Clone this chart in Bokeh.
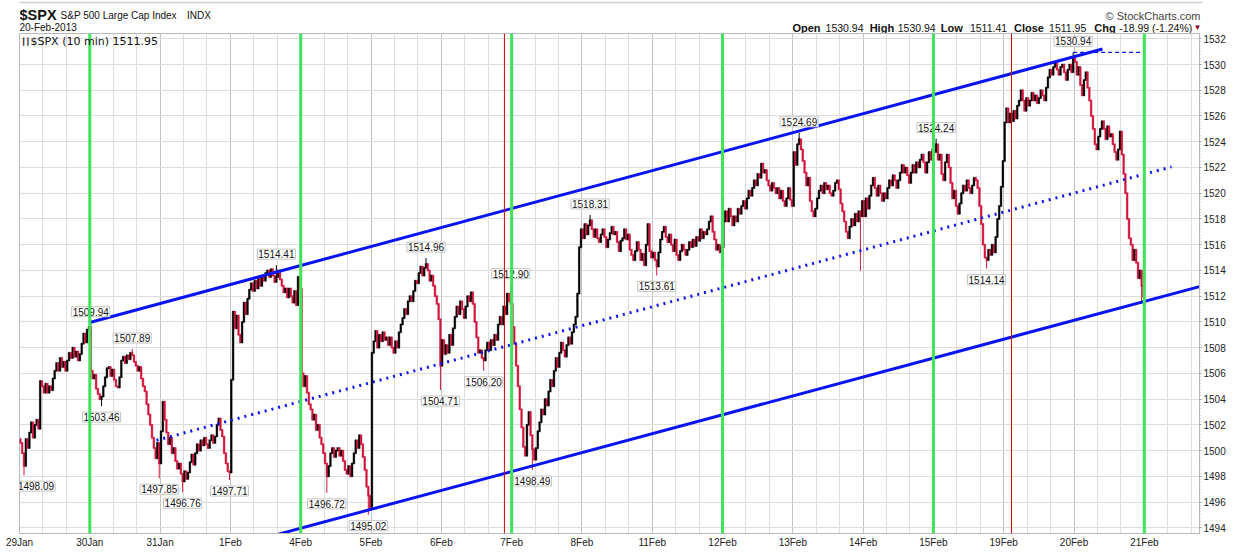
from bokeh.plotting import figure
from bokeh.models import ColumnDataSource, FixedTicker, Label, Span, Range1d
from bokeh.layouts import column
from bokeh.core.properties import value
from bokeh.embed import file_html
from bokeh.resources import INLINE

# ---------------- data ----------------
day_labels = ["29Jan", "30Jan", "31Jan", "1Feb", "4Feb", "5Feb", "6Feb", "7Feb", "8Feb",
              "11Feb", "12Feb", "13Feb", "14Feb", "15Feb", "19Feb", "20Feb", "21Feb"]
bars_per_day = 39
cycle_days = ["30Jan", "4Feb", "7Feb", "12Feb", "15Feb", "21Feb"]
marker_bars = [269.0, 550.3]

first_open = 1500.9
d29jan = [1500.6, 1499.8, 1498.8, 1500.9, 1500.2, 1501.4, 1502.2, 1501.0, 1502.0, 1502.4, 1501.7, 1505.4, 1505.0,
          1504.5, 1505.2, 1504.5, 1505.0, 1504.7, 1505.6, 1506.2, 1506.8, 1506.2, 1507.2, 1506.5, 1506.9, 1506.2,
          1507.0, 1507.6, 1507.2, 1508.0, 1507.3, 1507.7, 1507.0, 1507.5, 1508.3, 1509.1, 1508.4, 1509.4, 1509.6]
d30jan = [1506.2, 1505.6, 1505.9, 1504.8, 1504.4, 1504.0, 1504.2, 1505.0, 1505.7, 1506.4, 1506.5, 1505.8, 1506.3,
          1505.5, 1505.0, 1504.9, 1505.7, 1507.0, 1507.3, 1506.8, 1507.4, 1507.1, 1507.6, 1507.4, 1506.9, 1506.6,
          1506.2, 1506.5, 1505.6, 1505.0, 1504.6, 1503.6, 1502.8, 1502.0, 1501.0, 1500.2, 1499.4, 1500.6, 1499.0]
d31jan = [1501.5, 1503.8, 1502.4, 1501.4, 1500.5, 1501.0, 1499.8, 1500.2, 1499.2, 1498.6, 1499.0, 1498.2, 1497.6,
          1498.4, 1497.8, 1498.3, 1499.1, 1499.7, 1498.9, 1499.8, 1500.5, 1500.0, 1500.8, 1500.4, 1501.0, 1500.5,
          1500.2, 1500.8, 1501.2, 1500.6, 1501.1, 1502.0, 1502.5, 1501.6, 1501.1, 1499.8, 1499.0, 1498.4, 1498.3]
d1feb = [1505.5, 1510.8, 1509.5, 1510.5, 1509.0, 1508.4, 1510.0, 1511.5, 1510.6, 1511.8, 1512.5, 1513.0, 1512.4,
         1513.2, 1512.6, 1513.4, 1512.8, 1513.6, 1513.2, 1513.8, 1514.0, 1513.5, 1514.1, 1513.6, 1513.1, 1513.5,
         1514.0, 1513.3, 1512.8, 1512.3, 1512.6, 1511.9, 1512.6, 1512.0, 1511.5, 1512.4, 1511.3, 1513.5, 1512.6]
d4feb = [1506.0, 1505.0, 1505.8, 1504.5, 1503.6, 1503.2, 1502.4, 1502.8, 1501.6, 1502.0, 1501.0, 1500.5, 1499.8,
         1499.0, 1498.0, 1498.8, 1499.8, 1500.2, 1499.5, 1500.0, 1500.2, 1499.6, 1500.0, 1499.2, 1498.5, 1498.2,
         1498.8, 1498.0, 1499.0, 1499.8, 1500.8, 1500.2, 1501.2, 1500.5, 1499.5, 1498.5, 1497.2, 1496.5, 1495.6]
d5feb = [1507.6, 1508.5, 1509.3, 1508.0, 1509.0, 1508.5, 1509.2, 1508.6, 1508.8, 1508.2, 1508.8, 1508.0, 1507.6,
         1508.5, 1508.0, 1509.2, 1509.8, 1510.3, 1511.0, 1510.6, 1511.6, 1512.0, 1511.6, 1512.4, 1513.2, 1513.0,
         1513.8, 1514.3, 1513.6, 1514.2, 1514.5, 1514.0, 1513.2, 1513.6, 1512.8, 1512.0, 1511.4, 1510.2, 1506.6]
d6feb = [1508.6, 1507.5, 1508.2, 1507.6, 1509.0, 1508.2, 1509.5, 1510.4, 1511.2, 1510.6, 1511.6, 1511.0, 1510.3,
         1511.2, 1512.0, 1511.6, 1512.3, 1511.4, 1510.0, 1508.8, 1507.6, 1507.8, 1507.2, 1507.0, 1507.8, 1508.4,
         1507.8, 1508.6, 1508.2, 1509.0, 1508.6, 1509.8, 1510.4, 1509.8, 1511.2, 1510.6, 1512.2, 1511.6, 1511.4]
d7feb = [1509.6, 1508.3, 1506.6, 1505.0, 1503.2, 1501.8, 1500.3, 1499.6, 1502.0, 1503.0, 1501.2, 1500.1, 1499.3,
         1500.2, 1501.5, 1502.2, 1503.2, 1502.8, 1504.0, 1503.5, 1504.6, 1505.5, 1505.0, 1506.2, 1507.2, 1506.5,
         1507.6, 1508.4, 1507.8, 1507.3, 1508.2, 1508.8, 1508.3, 1509.2, 1509.8, 1510.4, 1512.2, 1515.8, 1517.2]
d8feb = [1516.5, 1517.6, 1516.8, 1517.5, 1517.9, 1517.2, 1516.6, 1517.2, 1516.5, 1516.2, 1516.8, 1517.2, 1516.6,
         1515.8, 1516.4, 1516.9, 1517.4, 1516.8, 1517.0, 1516.2, 1515.5, 1516.3, 1516.5, 1517.2, 1516.4, 1516.8,
         1515.6, 1515.2, 1514.8, 1515.5, 1516.2, 1515.6, 1514.8, 1515.3, 1514.4, 1516.0, 1517.6, 1515.5, 1515.0]
d11feb = [1515.4, 1514.8, 1514.3, 1515.4, 1516.4, 1517.0, 1517.4, 1516.6, 1516.2, 1516.8, 1516.0, 1515.5, 1516.4,
          1515.2, 1514.8, 1515.5, 1516.0, 1515.6, 1515.2, 1515.6, 1516.2, 1515.8, 1516.4, 1515.9, 1516.6, 1516.3,
          1517.2, 1516.5, 1517.0, 1516.8, 1517.2, 1517.8, 1518.2, 1517.0, 1516.4, 1515.6, 1516.0, 1515.4, 1515.8]
d12feb = [1517.8, 1518.6, 1517.8, 1518.8, 1518.2, 1517.5, 1518.2, 1517.8, 1518.8, 1518.4, 1519.0, 1519.4, 1518.8,
          1519.6, 1520.2, 1519.8, 1520.4, 1521.0, 1520.6, 1521.5, 1521.2, 1522.3, 1521.6, 1521.8, 1521.0, 1520.6,
          1520.2, 1520.8, 1520.4, 1520.0, 1520.4, 1519.6, 1520.2, 1519.4, 1519.0, 1519.6, 1520.4, 1519.5, 1519.0]
d13feb = [1523.2, 1522.2, 1523.8, 1524.2, 1523.4, 1522.5, 1521.6, 1520.6, 1521.2, 1519.4, 1518.6, 1518.2, 1518.8,
          1519.6, 1520.2, 1520.6, 1520.0, 1520.8, 1520.3, 1520.6, 1520.0, 1519.8, 1520.2, 1520.8, 1521.0, 1520.3,
          1519.2, 1518.6, 1517.8, 1517.0, 1516.5, 1517.4, 1518.0, 1517.5, 1518.4, 1517.8, 1518.6, 1518.2, 1519.4]
d14feb = [1518.2, 1519.6, 1518.8, 1519.8, 1520.6, 1521.2, 1520.4, 1519.8, 1520.6, 1520.0, 1519.4, 1520.0, 1519.6,
          1520.4, 1521.0, 1520.6, 1521.4, 1521.0, 1520.4, 1521.0, 1521.6, 1522.2, 1521.6, 1522.0, 1521.4, 1520.8,
          1521.6, 1522.2, 1521.6, 1522.4, 1522.0, 1522.6, 1523.0, 1522.4, 1521.6, 1522.4, 1523.2, 1522.6, 1523.4]
d15feb = [1523.2, 1523.8, 1522.6, 1523.0, 1521.5, 1521.0, 1522.4, 1523.0, 1522.0, 1520.8, 1519.6, 1520.2, 1519.0,
          1518.4, 1519.2, 1520.0, 1520.6, 1520.2, 1521.0, 1520.4, 1520.0, 1520.6, 1521.2, 1521.0, 1520.4, 1519.0,
          1517.6, 1516.0, 1515.0, 1514.8, 1515.6, 1515.2, 1516.0, 1515.4, 1516.6, 1518.0, 1519.0, 1520.5, 1522.5]
d19feb = [1525.5, 1526.6, 1525.5, 1526.2, 1525.6, 1526.4, 1525.8, 1526.8, 1527.2, 1528.0, 1527.2, 1526.4, 1527.4,
          1526.8, 1527.2, 1527.8, 1527.2, 1527.6, 1527.0, 1527.4, 1528.0, 1527.6, 1527.2, 1528.2, 1529.0, 1529.6,
          1529.2, 1529.8, 1530.2, 1529.6, 1529.2, 1529.8, 1530.0, 1529.4, 1528.8, 1529.6, 1530.0, 1529.4, 1530.5]
d20feb = [1530.2, 1529.2, 1529.8, 1528.4, 1527.6, 1528.8, 1529.4, 1528.2, 1527.2, 1526.0, 1525.0, 1523.8, 1523.4,
          1524.4, 1525.0, 1525.6, 1525.0, 1524.2, 1525.2, 1524.4, 1524.6, 1523.8, 1523.2, 1522.6, 1523.4, 1524.8,
          1523.0, 1521.5, 1520.0, 1518.0, 1516.5, 1516.0, 1514.8, 1515.6, 1514.6, 1513.4, 1514.0, 1512.8, 1511.95]
day_closes = [d29jan, d30jan, d31jan, d1feb, d4feb, d5feb, d6feb, d7feb, d8feb,
              d11feb, d12feb, d13feb, d14feb, d15feb, d19feb, d20feb]

# annotated extremes: bar index, value, kind
note_bars = [2, 39, 45, 62, 77, 90, 116, 142, 170, 193, 225, 233, 257, 272, 284, 316, 353, 432, 508, 536, 584]
note_vals = [1498.09, 1509.94, 1503.46, 1507.89, 1497.85, 1496.76, 1497.71, 1514.41, 1496.72, 1495.02, 1514.96,
             1504.71, 1506.20, 1512.90, 1498.49, 1518.31, 1513.61, 1524.69, 1524.24, 1514.14, 1530.94]
note_kind = ["low", "high", "low", "high", "low", "low", "low", "high", "low", "low", "high",
             "low", "low", "high", "low", "high", "low", "high", "high", "low", "high"]
extra_low_bars = [466, 622]
extra_low_vals = [1514.0, 1511.41]

# trend channel (bar position, price)
upper_x = [38.5, 600.8]
upper_y = [1509.94, 1531.2]
mid_x = [76.0, 639.1]
mid_y = [1500.8, 1522.05]
lower_x = [114.3, 674.6]
lower_y = [1492.4, 1513.5]
peak_x = [584.5, 622.5]
peak_y = [1530.94, 1530.94]

y_ticks = [1494, 1496, 1498, 1500, 1502, 1504, 1506, 1508, 1510, 1512, 1514,
           1516, 1518, 1520, 1522, 1524, 1526, 1528, 1530, 1532]

hdr_open, hdr_high, hdr_low, hdr_close, hdr_chg = "1530.94", "1530.94", "1511.41", "1511.95", "-18.99 (-1.24%)"
last_value = "1511.95"

# ---------------- build bars ----------------
closes = [c for d in day_closes for c in d]
opens = [first_open] + closes[:-1]
highs = [max(o, c) for o, c in zip(opens, closes)]
lows = [min(o, c) for o, c in zip(opens, closes)]
for b, v, k in zip(note_bars, note_vals, note_kind):
    if k == "high":
        highs[b] = max(highs[b], v)
    else:
        lows[b] = min(lows[b], v)
for b, v in zip(extra_low_bars, extra_low_vals):
    lows[b] = min(lows[b], v)

UP, DOWN = "#000000", "#d2143c"
BLUE = "#0a14f0"
src = ColumnDataSource(dict(
    x=[i + 0.5 for i in range(len(closes))],
    top=[max(o, c) + 0.04 for o, c in zip(opens, closes)],
    bottom=[min(o, c) - 0.04 for o, c in zip(opens, closes)],
    high=highs, low=lows,
    color=[UP if c >= o else DOWN for o, c in zip(opens, closes)],
))

FRAME_W, FRAME_H = 1180, 500
FL, FT = 19, 33          # frame left / top on the page
FB = FT + FRAME_H

p = figure(frame_width=FRAME_W, frame_height=FRAME_H,
           x_range=Range1d(0, 654.6), y_range=Range1d(1493.56, 1532.41),
           y_axis_location="right", toolbar_location=None, output_backend="svg", title=None,
           min_border_left=FL, min_border_top=0, min_border_bottom=2, min_border_right=2,
           background_fill_color="white", border_fill_color="white")
p.outline_line_color = "#b8b8b8"
p.outline_line_width = 1

day_ticks = [i * bars_per_day for i in range(len(day_labels))]
minor_x = [i * 13 for i in range(0, 51)]
p.xaxis.ticker = FixedTicker(ticks=day_ticks, minor_ticks=minor_x)
p.xaxis.major_label_overrides = {t: l for t, l in zip(day_ticks, day_labels)}
p.xaxis.major_tick_out = 0
p.xaxis.major_tick_in = 0
p.xaxis.minor_tick_out = 0
p.xaxis.minor_tick_in = 0
p.xaxis.major_tick_line_color = None
p.xaxis.minor_tick_line_color = None
p.xaxis.axis_line_color = "#b8b8b8"
p.xaxis.major_label_standoff = 3
p.xaxis.major_label_text_font = "Liberation Sans"
p.xaxis.major_label_text_font_size = "10px"
p.xaxis.major_label_text_color = "#222222"

p.yaxis.ticker = FixedTicker(ticks=y_ticks, minor_ticks=[1494 + 0.25 * i for i in range(153)])
p.yaxis.major_tick_out = 2
p.yaxis.major_tick_in = 0
p.yaxis.minor_tick_out = 1
p.yaxis.minor_tick_in = 0
p.yaxis.major_tick_line_color = "#999999"
p.yaxis.minor_tick_line_color = "#aaaaaa"
p.yaxis.axis_line_color = "#b8b8b8"
p.yaxis.major_label_standoff = 2
p.yaxis.major_label_text_font = "Liberation Sans"
p.yaxis.major_label_text_font_size = "10px"
p.yaxis.major_label_text_color = "#222222"

p.xgrid.grid_line_color = "#c2c2c2"
p.xgrid.minor_grid_line_color = "#dddddd"
p.ygrid.grid_line_color = "#dddddd"

# bars
p.segment(x0="x", y0="high", x1="x", y1="low", line_color="color", line_width=1, source=src)
p.vbar(x="x", width=0.9, top="top", bottom="bottom", fill_color="color", line_color="color",
       line_width=0.5, source=src)

# value notes
for b, v, k in zip(note_bars, note_vals, note_kind):
    p.add_layout(Label(x=b + 0.5, y=v, text=f"{v:.2f}", text_align="center",
                       text_baseline="bottom" if k == "high" else "top",
                       y_offset=6 if k == "high" else -6,
                       x_offset=12 if b < 10 else 0,
                       text_font="Liberation Sans", text_font_size="10px", text_color="#111111",
                       background_fill_color="white", border_line_color="#c4c4c4",
                       padding=1))

# cycle / marker lines
for d in cycle_days:
    p.add_layout(Span(location=day_ticks[day_labels.index(d)], dimension="height",
                      line_color="#3fe35a", line_width=3))
for m in marker_bars:
    p.add_layout(Span(location=m, dimension="height", line_color="#d40000", line_width=1))

# channel
p.line(upper_x, upper_y, line_color=BLUE, line_width=3)
p.line(lower_x, lower_y, line_color=BLUE, line_width=3)
p.line(mid_x, mid_y, line_color=BLUE, line_width=3, line_dash="2 5")
p.line(peak_x, peak_y, line_color=BLUE, line_width=1.2, line_dash="4 3")

# legend text inside the frame (screen units from frame bottom-left)
p.add_layout(Label(x=2, y=FRAME_H - 8, x_units="screen", y_units="screen", text="\u2503\u2503",
                   text_font="DejaVu Sans", text_font_size="7px", text_color="#111111",
                   text_baseline="middle"))
p.add_layout(Label(x=11, y=FRAME_H - 8, x_units="screen", y_units="screen",
                   text=f"$SPX (10 min) {last_value}",
                   text_font="DejaVu Sans", text_font_size="11px", text_color="#111111",
                   text_baseline="middle"))

# ---------------- header strip ----------------
# the column aligns this strip's frame with the chart frame (page x 19 .. 1199),
# so the x range is expressed directly in page pixels
h = figure(width=1231, height=FT, x_range=Range1d(FL, FL + FRAME_W), y_range=Range1d(FT, 0),
           x_axis_type=None, y_axis_type=None, toolbar_location=None, output_backend="svg",
           title=None, min_border=0, outline_line_color=None,
           background_fill_color="white", border_fill_color="white")
h.grid.visible = False
h.line([FL, FL + FRAME_W], [2, 2], line_color="#cfcfcf", line_width=1.5)


def htext(xs, ys, texts, size, bold=False, color="#111111", align="left"):
    h.text(x=xs, y=ys, text=texts, text_font=value("Liberation Sans"), text_font_size=size,
           text_font_style="bold" if bold else "normal", text_color=color,
           text_align=align, text_baseline="middle")


htext([19], [14], ["$SPX"], "14.5px", bold=True)
htext([60, 186, 19], [15, 15, 27], ["S&P 500 Large Cap Index", "INDX", "20-Feb-2013"], "10px")
htext([1197], [15], ["\u00a9 StockCharts.com"], "11px", color="#444444", align="right")
htext([790, 867, 938, 1011, 1091], [27] * 5, ["Open", "High", "Low", "Close", "Chg"], "11px", bold=True)
htext([823, 895, 967, 1046, 1116], [27] * 5, [hdr_open, hdr_high, hdr_low, hdr_close, hdr_chg], "10.5px")
htext([1190], [27], ["\u25bc"], "8px", color="#8b0022")

layout = column(h, p, spacing=0)
open("out.html", "w").write(file_html(layout, INLINE))
